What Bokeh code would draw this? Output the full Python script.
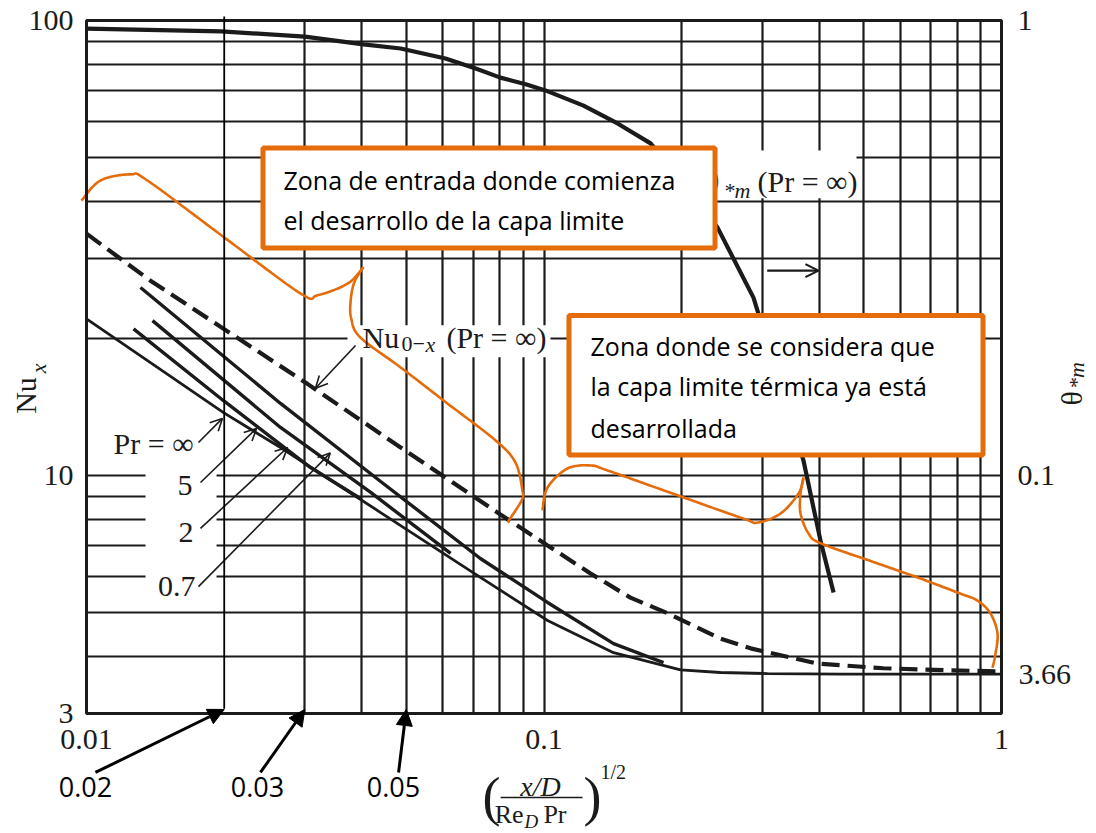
import math

from bokeh.embed import file_html
from bokeh.models import (Arrow, BoxAnnotation, CustomJSTickFormatter, FixedTicker, Grid,
                          Label, LogAxis, LogScale, NormalHead, OpenHead, Range1d)
from bokeh.plotting import figure
from bokeh.resources import INLINE

# ---------------------------------------------------------------------------
# Data: local Nusselt number in the thermal entry region of a tube
# abscissa: ((x/D) / (Re_D Pr))^(1/2)
# ---------------------------------------------------------------------------
theta_x = [0.01, 0.0197, 0.030, 0.0403, 0.0486, 0.0609, 0.0709, 0.0803, 0.0916,
           0.1007, 0.122, 0.1448, 0.171, 0.2394, 0.287, 0.369, 0.402, 0.4295]
theta_m = [0.960, 0.946, 0.922, 0.886, 0.868, 0.825, 0.784, 0.749, 0.723,
           0.702, 0.650, 0.594, 0.537, 0.351, 0.246, 0.108, 0.072, 0.0553]

nu_mean_x = [0.01, 0.0138, 0.0304, 0.0486, 0.0803, 0.1018, 0.1264, 0.1545,
             0.1862, 0.243, 0.2828, 0.396, 0.552, 0.7735, 1.0]
nu_mean = [34.0, 26.8, 15.9, 11.52, 8.21, 7.02, 6.09, 5.39,
           4.98, 4.38, 4.17, 3.86, 3.77, 3.73, 3.71]

pr_inf_x = [0.01, 0.01993, 0.02655, 0.04395, 0.0726, 0.1018, 0.1419, 0.1988,
            0.243, 0.308, 0.45, 1.0]
pr_inf_nu = [22.1, 13.75, 11.52, 8.29, 5.97, 4.80, 4.08, 3.74,
             3.69, 3.67, 3.66, 3.66]

pr5_x = [0.01267, 0.01993, 0.03088, 0.0397]
pr5_nu = [21.0, 14.6, 10.41, 8.9]

pr2_x = [0.01394, 0.02655, 0.0418, 0.0625]
pr2_nu = [21.9, 12.75, 9.18, 6.74]

pr07_x = [0.01312, 0.02655, 0.04395, 0.0726, 0.1018, 0.1419, 0.1825]
pr07_nu = [25.9, 14.4, 9.70, 6.57, 5.26, 4.27, 3.88]

nu_fully_developed = 3.66

x_ticks = [0.01, 0.1, 1]
y_ticks = [3, 10, 100]
theta_ticks = [0.1, 1]
x_grid = [0.03, 0.04, 0.05, 0.06, 0.07, 0.08, 0.09, 0.1,
          0.2, 0.3, 0.4, 0.5, 0.6, 0.7, 0.8, 0.9]
y_grid = [4, 5, 6, 7, 8, 9, 10, 20, 30, 40, 50, 60, 70, 80, 90]
marked_x = [0.02, 0.03, 0.05]
marked_labels = ["0.02", "0.03", "0.05"]

# chart box (data limits)
X_MIN, X_MAX = 0.01, 1.0
NU_MIN, NU_MAX = 3.0, 100.0

# ---------------------------------------------------------------------------
SERIF = "Liberation Serif"
SANS = "Open Sans"
INK = "#1b1b1b"
ORANGE = "#E46C0A"
FS = "30px"

# The plotting area spans the whole page so that the titles, notes and
# arrows in the margin are drawn with the same data scales as the curves.
x_lo, x_hi = 10 ** -2.18798, 10 ** 0.20765
y_lo, y_hi = 10 ** 0.213187, 10 ** 2.043956

p = figure(width=1096, height=833, x_axis_type="log", y_axis_type="log",
           x_axis_location=None, y_axis_location=None,
           x_range=Range1d(x_lo, x_hi), y_range=Range1d(y_lo, y_hi),
           output_backend="svg", toolbar_location=None, min_border=0)
p.background_fill_color = "white"
p.border_fill_color = "white"
p.outline_line_color = None

p.extra_y_ranges = {"theta": Range1d(y_lo / 100, y_hi / 100)}
p.extra_y_scales = {"theta": LogScale()}

plain = CustomJSTickFormatter(code="return String(tick);")
bottom_axis = LogAxis(fixed_location=NU_MIN, ticker=FixedTicker(ticks=x_ticks))
left_axis = LogAxis(fixed_location=X_MIN, ticker=FixedTicker(ticks=y_ticks))
theta_axis = LogAxis(fixed_location=X_MAX, y_range_name="theta",
                     ticker=FixedTicker(ticks=theta_ticks))
for ax in (bottom_axis, left_axis, theta_axis):
    ax.formatter = plain
    ax.axis_line_color = None
    ax.major_tick_line_color = None
    ax.minor_tick_line_color = None
    ax.major_tick_out = 0
    ax.major_tick_in = 0
    ax.major_label_text_font = SERIF
    ax.major_label_text_font_size = FS
    ax.major_label_text_color = INK
bottom_axis.major_label_standoff = 17
left_axis.major_label_standoff = 13
theta_axis.major_label_standoff = 16
p.add_layout(bottom_axis, "below")
p.add_layout(left_axis, "left")
p.add_layout(theta_axis, "right")

# grid confined to the chart box
p.xgrid.ticker = FixedTicker(ticks=x_grid)
p.ygrid.ticker = FixedTicker(ticks=y_grid)
if "cross_bounds" in Grid.properties():
    p.xgrid.cross_bounds = (NU_MIN, NU_MAX)
    p.ygrid.cross_bounds = (X_MIN, X_MAX)
    for g in (p.xgrid, p.ygrid):
        g.grid_line_color = INK
        g.grid_line_width = 2.2
else:
    p.xgrid.visible = False
    p.ygrid.visible = False
    p.segment(x_grid, [NU_MIN] * len(x_grid), x_grid, [NU_MAX] * len(x_grid),
              line_color=INK, line_width=2.2, level="underlay")
    p.segment([X_MIN] * len(y_grid), y_grid, [X_MAX] * len(y_grid), y_grid,
              line_color=INK, line_width=2.2, level="underlay")


def mask(left, right, bottom, top):
    """White patch laid over the grid, under the curves."""
    p.add_layout(BoxAnnotation(left=left, right=right, bottom=bottom, top=top,
                               fill_color="white", fill_alpha=1,
                               line_color=None, level="underlay"))


mask(0.01346, 0.01924, 5.35, 12.9)      # behind the Pr labels
mask(0.03719, 0.1033, 18.2, 21.4)       # behind the Nu_0-x label
mask(0.2365, 0.482, 40.7, 51.8)         # behind the theta label

# chart frame
p.add_layout(BoxAnnotation(left=X_MIN, right=X_MAX, bottom=NU_MIN, top=NU_MAX,
                           fill_alpha=0, line_color=INK, line_alpha=1, line_width=3))

# ---------------------------------------------------------------------------
# curves
p.line(theta_x, theta_m, y_range_name="theta", line_color=INK, line_width=4.2)
p.line(nu_mean_x, nu_mean, line_color=INK, line_width=4.2, line_dash="18 8")
p.line(pr_inf_x, pr_inf_nu, line_color=INK, line_width=2.8)
p.line(pr5_x, pr5_nu, line_color=INK, line_width=3.4)
p.line(pr2_x, pr2_nu, line_color=INK, line_width=3.4)
p.line(pr07_x, pr07_nu, line_color=INK, line_width=3.4)


def smooth(points, steps=14):
    """Catmull-Rom path through points, built in log-log space."""
    pts = [(math.log10(a), math.log10(b)) for a, b in points]
    ext = [pts[0]] + pts + [pts[-1]]
    xs, ys = [], []
    for i in range(1, len(ext) - 2):
        p0, p1, p2, p3 = ext[i - 1], ext[i], ext[i + 1], ext[i + 2]
        for k in range(steps):
            t = k / steps
            t2, t3 = t * t, t * t * t
            for j, out in ((0, xs), (1, ys)):
                out.append(0.5 * (2 * p1[j] + (-p0[j] + p2[j]) * t
                                  + (2 * p0[j] - 5 * p1[j] + 4 * p2[j] - p3[j]) * t2
                                  + (-p0[j] + 3 * p1[j] - 3 * p2[j] + p3[j]) * t3))
    xs.append(pts[-1][0])
    ys.append(pts[-1][1])
    return [10 ** v for v in xs], [10 ** v for v in ys]


# orange braces marking the two zones
brace_entry = [
    [(0.00975, 40.2), (0.01073, 44.5), (0.01248, 45.9), (0.01359, 44.5),
     (0.01997, 33.4), (0.0294, 25.1), (0.032, 24.9), (0.0372, 26.4), (0.0403, 28.7)],
    [(0.0403, 28.7), (0.0385, 26.6), (0.0378, 24.25), (0.0379, 22.13), (0.0397, 20.1),
     (0.0486, 17.28), (0.0615, 14.4), (0.0784, 11.94), (0.0866, 10.68),
     (0.0897, 9.27), (0.0893, 8.81), (0.0832, 7.88)],
]
brace_developed = [
    [(0.0992, 8.38), (0.1018, 9.41), (0.1125, 10.36), (0.1264, 10.52), (0.1377, 10.26),
     (0.1938, 9.08), (0.2729, 8.04), (0.2929, 7.88), (0.3289, 8.25), (0.36, 9.13),
     (0.3692, 9.90)],
    [(0.3692, 9.90), (0.3637, 9.13), (0.3637, 8.25), (0.3785, 7.46), (0.402, 7.10),
     (0.5122, 6.51), (0.6553, 5.97), (0.8014, 5.53), (0.886, 5.31), (0.9463, 4.97),
     (0.98, 4.50), (0.9703, 4.06), (0.9557, 3.78)],
]
for piece in brace_entry + brace_developed:
    bx, by = smooth(piece)
    p.line(bx, by, line_color=ORANGE, line_width=2.6)


# ---------------------------------------------------------------------------
def label(x, y, text, size=FS, font=SERIF, align="left", style="normal",
          angle=0.0, color=INK):
    p.add_layout(Label(x=x, y=y, text=text, text_font=font, text_font_size=size,
                       text_align=align, text_baseline="middle",
                       text_font_style=style, angle=angle, text_color=color))


def arrow(x0, y0, x1, y1, head, width, color=INK):
    p.add_layout(Arrow(end=head, x_start=x0, y_start=y0, x_end=x1, y_end=y1,
                       line_color=color, line_width=width))


def open_head():
    return OpenHead(size=12, line_color=INK, line_width=1.6)


# Pr curve labels with leader arrows
label(0.01714, 11.76, "Pr = \u221e", align="right")
label(0.01705, 9.51, "5", align="right")
label(0.01714, 7.49, "2", align="right")
label(0.01731, 5.70, "0.7", align="right")
arrow(0.01757, 11.82, 0.01982, 13.35, open_head(), 1.6)
arrow(0.01775, 9.65, 0.02353, 12.69, open_head(), 1.6)
arrow(0.01775, 7.65, 0.0275, 11.52, open_head(), 1.6)
arrow(0.01757, 5.70, 0.0341, 11.2, open_head(), 1.6)

# mean Nusselt label
label(0.04012, 20.1, "Nu")
label(0.04882, 19.45, "0\u2212", size="22px")
label(0.05508, 19.45, "x", size="22px", style="italic")
label(0.0612, 20.1, "(Pr = \u221e)")
arrow(0.03873, 19.31, 0.03166, 15.55, open_head(), 1.6)

# theta_m label (partly behind the first box) and its axis arrow
label(0.2418, 44.3, "\u03b8", align="right")
label(0.2468, 42.3, "*m", size="22px", style="italic")
label(0.2929, 44.3, "(Pr = \u221e)")
arrow(0.3075, 28.2, 0.398, 28.2, OpenHead(size=13, line_color=INK, line_width=2.2), 2.2)

# fully developed value on the right side
p.add_layout(Label(x=X_MAX, y=nu_fully_developed, text="3.66", text_font=SERIF,
                   text_font_size=FS, text_color=INK, text_baseline="middle",
                   x_offset=17))

# axis titles
label(0.00736, 14.99, "Nu", align="center", angle=math.pi / 2)
label(0.00785, 17.19, "x", size="22px", align="center", style="italic", angle=math.pi / 2)
label(1.422, 14.77, "\u03b8", align="center", angle=math.pi / 2)
label(1.458, 16.59, "*m", size="22px", align="center", style="italic", angle=math.pi / 2)

label(0.0768, 1.965, "(", size="54px", align="center")
label(0.1276, 1.965, ")", size="54px", align="center")
label(0.09824, 2.072, "x/D", size="28px", align="center", style="italic")
arrow(0.0804, 1.96, 0.1214, 1.96, None, 1.5)
label(0.0902, 1.799, "Re", size="26px", align="right")
label(0.0906, 1.74, "D", size="19px", style="italic")
label(0.0997, 1.799, "Pr", size="26px")
label(0.1329, 2.225, "1/2", size="20px")

# ---------------------------------------------------------------------------
# orange note boxes (drawn over the curves)
p.add_layout(BoxAnnotation(left=0.02431, right=0.2365, bottom=31.62, top=52.45,
                           fill_color="white", fill_alpha=1,
                           line_color=ORANGE, line_alpha=1, line_width=5))
label(0.02695, 44.7, "Zona de entrada donde comienza", size="25px", font=SANS, color="black")
label(0.02695, 36.5, "el desarrollo de la capa limite", size="25px", font=SANS, color="black")

p.add_layout(BoxAnnotation(left=0.1134, right=0.9112, bottom=11.09, top=22.47,
                           fill_color="white", fill_alpha=1,
                           line_color=ORANGE, line_alpha=1, line_width=5))
label(0.1264, 19.3, "Zona donde se considera que", size="25px", font=SANS, color="black")
label(0.1264, 15.69, "la capa limite t\u00e9rmica ya est\u00e1", size="25px", font=SANS,
      color="black")
label(0.1264, 12.69, "desarrollada", size="25px", font=SANS, color="black")

# marked abscissa values below the axis
arrow(marked_x[0], 3.07, marked_x[0], 102.0, None, 1.8, color="black")
label_from = [0.01046, 0.024, 0.0481]
label_at = [0.00995, 0.02365, 0.04688]
for xv, txt, x0, cx in zip(marked_x, marked_labels, label_from, label_at):
    arrow(x0, 2.225, xv, 3.06, NormalHead(size=16, fill_color="black", line_color="black"),
          3, color="black")
    label(cx, 2.062, txt, size="27px", font=SANS, align="center", color="black")

open("out.html", "w").write(file_html(p, INLINE))
